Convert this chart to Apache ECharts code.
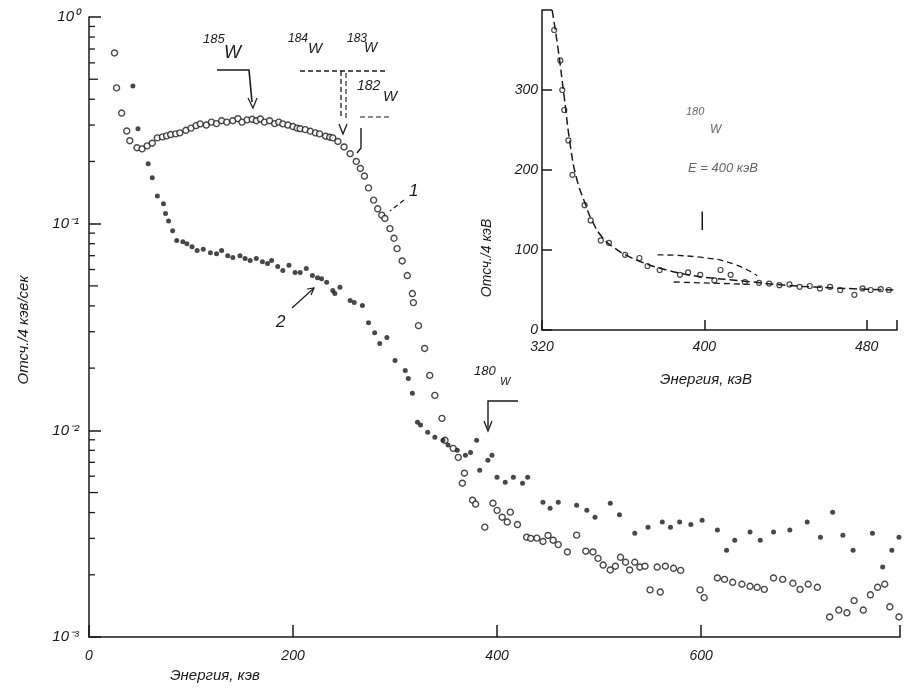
<!DOCTYPE html>
<html>
<head>
<meta charset="utf-8">
<script src="https://cdn.jsdelivr.net/npm/echarts@6/dist/echarts.min.js"></script>
<style>
  html, body { margin: 0; background: #fff; }
  #chart { width: 904px; height: 691px; }
</style>
</head>
<body>
<div id="chart"></div>
<script>
"use strict";

// curve 1, open circles: [energy keV, counts]
var openPts = [
    [25, 0.67], [27, 0.454], [32, 0.343], [37, 0.281], [40, 0.252], [47, 0.233], [52, 0.230],
    [57, 0.238], [62, 0.245], [67, 0.26], [72, 0.263], [76, 0.266], [80, 0.27], [85, 0.272],
    [89, 0.275], [95, 0.283], [100, 0.29], [105, 0.298], [109, 0.304], [115, 0.30], [120, 0.31],
    [125, 0.305], [130, 0.315], [135, 0.31], [141, 0.315], [146, 0.322], [150, 0.31], [155, 0.318],
    [160, 0.32], [164, 0.315], [168, 0.321], [172, 0.31], [177, 0.315], [182, 0.305], [186, 0.31],
    [190, 0.304], [195, 0.30], [200, 0.295], [204, 0.29], [207, 0.288], [212, 0.285], [217, 0.28],
    [222, 0.275], [226, 0.272], [232, 0.265], [236, 0.262], [239, 0.26], [244, 0.25], [250, 0.235],
    [256, 0.218], [262, 0.20], [266, 0.185], [270, 0.17], [274, 0.149], [279, 0.13], [283, 0.118],
    [287, 0.11], [290, 0.106], [295, 0.0946], [299, 0.085], [302, 0.0757], [307, 0.066], [312, 0.0561],
    [317, 0.0459], [318, 0.0415], [323, 0.0321], [329, 0.0249], [334, 0.01844], [339, 0.01476],
    [346, 0.01143], [349, 0.00895], [357, 0.00818], [362, 0.0074], [366, 0.00555], [368, 0.0062],
    [376, 0.00459], [379, 0.0044], [388, 0.0034], [396, 0.00444], [400, 0.0041], [405, 0.0038],
    [410, 0.0036], [413, 0.00402], [420, 0.0035], [429, 0.00304], [433, 0.0030], [439, 0.00301],
    [445, 0.0029], [450, 0.0031], [455, 0.00294], [460, 0.0028], [469, 0.00258], [478, 0.00311],
    [487, 0.0026], [494, 0.00258], [499, 0.0024], [504, 0.00223], [511, 0.00211], [516, 0.0022],
    [521, 0.00243], [526, 0.0023], [530, 0.00211], [535, 0.0023], [540, 0.00218], [545, 0.0022],
    [550, 0.00169], [557, 0.00218], [560, 0.00165], [565, 0.0022], [573, 0.00215], [580, 0.0021],
    [599, 0.00169], [603, 0.00155], [616, 0.00193], [623, 0.0019], [631, 0.00184], [640, 0.0018],
    [648, 0.00176], [655, 0.00174], [662, 0.0017], [671, 0.00193], [680, 0.0019], [690, 0.00182],
    [697, 0.0017], [705, 0.0018], [714, 0.00174], [726, 0.00125], [735, 0.00135], [743, 0.00131],
    [750, 0.0015], [759, 0.00135], [766, 0.0016], [773, 0.00174], [780, 0.0018], [785, 0.0014],
    [794, 0.00125]
];

// curve 2, filled dots
var fullPts = [
    [43, 0.464], [48, 0.288], [58, 0.195], [62, 0.167], [67, 0.136], [73, 0.125], [75, 0.112],
    [78, 0.103], [82, 0.0925], [86, 0.0828], [92, 0.0818], [96, 0.080], [101, 0.0774], [106, 0.0741],
    [112, 0.0753], [119, 0.0723], [125, 0.0716], [130, 0.0741], [136, 0.070], [141, 0.0685],
    [148, 0.070], [153, 0.0678], [158, 0.0663], [164, 0.0678], [170, 0.0655], [175, 0.0641],
    [179, 0.0663], [185, 0.0621], [190, 0.0593], [196, 0.063], [202, 0.058], [207, 0.058],
    [213, 0.0606], [219, 0.0561], [224, 0.0548], [228, 0.0542], [233, 0.052], [239, 0.0475],
    [241, 0.0459], [246, 0.0492], [256, 0.0425], [260, 0.0415], [268, 0.0402], [274, 0.0332],
    [280, 0.0297], [285, 0.0263], [292, 0.0281], [300, 0.0218], [310, 0.0195], [313, 0.0178],
    [317, 0.0151], [322, 0.01093], [325, 0.0106], [332, 0.0098], [339, 0.00925], [347, 0.00895],
    [352, 0.0085], [361, 0.0080], [369, 0.00757], [374, 0.00781], [380, 0.00895], [383, 0.00641],
    [391, 0.00716], [395, 0.00757], [400, 0.00593], [408, 0.0056], [416, 0.00593], [425, 0.00555],
    [430, 0.00593], [445, 0.00449], [452, 0.0042], [460, 0.00449], [478, 0.00434], [488, 0.0041],
    [496, 0.0038], [511, 0.00444], [520, 0.0039], [535, 0.00318], [548, 0.0034], [562, 0.0036],
    [570, 0.0034], [579, 0.0036], [590, 0.0035], [601, 0.00367], [616, 0.00329], [625, 0.00263],
    [633, 0.00294], [648, 0.00322], [658, 0.00294], [671, 0.00322], [687, 0.00329], [704, 0.0036],
    [717, 0.00304], [729, 0.00402], [739, 0.00311], [749, 0.00263], [768, 0.00318], [778, 0.00218],
    [787, 0.00263], [794, 0.00304]
];

// inset: counts / 4 keV around 400 keV
var insetPts = [
    [326, 375], [329, 337], [330, 300], [331, 275], [333, 237], [335, 194], [341, 156], [344, 137],
    [349, 112], [353, 109], [361, 94], [368, 90], [372, 80], [378, 75], [388, 69], [392, 72],
    [398, 69], [405, 62], [408, 75], [413, 69], [420, 60], [427, 59], [432, 58], [437, 56],
    [442, 57], [447, 54], [452, 55], [457, 52], [462, 54], [467, 50], [474, 44], [478, 52],
    [482, 50], [487, 51], [491, 50]
];
var insetFit = [
    [325, 400], [328, 350], [331, 290], [334, 230], [337, 190], [341, 160], [345, 135], [350, 115],
    [356, 102], [362, 93], [370, 84], [380, 76], [390, 70], [400, 66], [420, 61], [440, 56],
    [460, 53], [480, 51], [495, 50]
];
var insetPeakTop = [[377, 94], [398, 91], [415, 82], [426, 68]];
var insetPeakBase = [[385, 60], [424, 57]];
var insetMarker = [[399, 125], [399, 148]];

var mainXTicks = [0, 200, 400, 600];
var mainYTicks = [0.001, 0.01, 0.1, 1];
var insetXTicks = [320, 400, 480];
var insetYTicks = [0, 100, 200, 300];

var FONT = 'Liberation Sans';
var INK = '#1a1a1a';

var sup = { '0': '\u2070', '1': '\u00b9', '2': '\u00b2', '3': '\u00b3', '-': '\u207b' };
function powLabel(v) {
    var e = String(Math.round(Math.log10(v)));
    return '10' + e.split('').map(function (c) { return sup[c]; }).join('');
}

var chart = echarts.init(document.getElementById('chart'));

function axisBase(extra) {
    var base = {
        axisLine: { lineStyle: { color: INK, width: 1.5 } },
        axisTick: { inside: true, length: 12, lineStyle: { color: INK, width: 1.5 } },
        axisLabel: { color: INK, fontFamily: FONT, fontStyle: 'italic', fontSize: 14 },
        splitLine: { show: false }
    };
    return Object.assign(base, extra);
}

var option = {
    backgroundColor: '#fff',
    animation: false,
    grid: [
        { left: 89, right: 4, top: 17, bottom: 54 },
        { left: 542, right: 7, top: 10, bottom: 361 }
    ],
    xAxis: [
        axisBase({
            type: 'value', gridIndex: 0, min: 0, max: 795, interval: 200,
            axisLabel: {
                color: INK, fontFamily: FONT, fontStyle: 'italic', fontSize: 14, margin: 12,
                formatter: function (v) { return mainXTicks.indexOf(v) >= 0 ? String(v) : ''; }
            }
        }),
        axisBase({
            type: 'value', gridIndex: 1, min: 320, max: 495, interval: 80,
            axisTick: { inside: true, length: 10, lineStyle: { color: INK, width: 1.5 } },
            axisLabel: {
                color: INK, fontFamily: FONT, fontStyle: 'italic', fontSize: 14, margin: 10,
                formatter: function (v) { return insetXTicks.indexOf(v) >= 0 ? String(v) : ''; }
            }
        })
    ],
    yAxis: [
        axisBase({
            type: 'log', gridIndex: 0, min: 0.001, max: 1, logBase: 10,
            axisLabel: {
                color: INK, fontFamily: FONT, fontStyle: 'italic', fontSize: 15, margin: 10,
                formatter: function (v) { return powLabel(v); }
            }
        }),
        axisBase({
            type: 'value', gridIndex: 1, min: 0, max: 400, interval: 100,
            axisTick: { inside: true, length: 10, lineStyle: { color: INK, width: 1.5 } },
            axisLabel: {
                color: INK, fontFamily: FONT, fontStyle: 'italic', fontSize: 14, margin: 4,
                formatter: function (v) { return insetYTicks.indexOf(v) >= 0 ? String(v) : ''; }
            }
        })
    ],
    series: [
        {
            name: '1', type: 'scatter', xAxisIndex: 0, yAxisIndex: 0,
            data: openPts, symbol: 'circle', symbolSize: 6,
            itemStyle: { color: '#fff', borderColor: INK, borderWidth: 1.4 }
        },
        {
            name: '2', type: 'scatter', xAxisIndex: 0, yAxisIndex: 0,
            data: fullPts, symbol: 'circle', symbolSize: 5,
            itemStyle: { color: INK }
        },
        {
            type: 'line', xAxisIndex: 1, yAxisIndex: 1, data: insetFit, smooth: true,
            symbol: 'none', lineStyle: { color: INK, width: 1.5, type: [8, 4] }
        },
        {
            type: 'line', xAxisIndex: 1, yAxisIndex: 1, data: insetPeakTop, smooth: true,
            symbol: 'none', lineStyle: { color: INK, width: 1.3, type: [6, 4] }
        },
        {
            type: 'line', xAxisIndex: 1, yAxisIndex: 1, data: insetPeakBase,
            symbol: 'none', lineStyle: { color: INK, width: 1.3, type: [6, 4] }
        },
        {
            type: 'line', xAxisIndex: 1, yAxisIndex: 1, data: insetMarker,
            symbol: 'none', lineStyle: { color: INK, width: 1.5 }
        },
        {
            type: 'scatter', xAxisIndex: 1, yAxisIndex: 1, data: insetPts,
            symbol: 'circle', symbolSize: 5,
            itemStyle: { color: '#fff', borderColor: INK, borderWidth: 1.2 }
        }
    ]
};
chart.setOption(option);

// log minor ticks and annotations
var graphics = [];
function txt(x, y, s, size, extra) {
    graphics.push(Object.assign({
        type: 'text', x: x, y: y,
        style: { text: s, fill: INK, font: 'italic ' + size + 'px "' + FONT + '"' }
    }, extra || {}));
}
function poly(points, dashed, w) {
    graphics.push({
        type: 'polyline', shape: { points: points },
        style: { stroke: INK, lineWidth: w || 1.3, fill: null, lineDash: dashed ? [5, 3] : null }
    });
}

for (var d = -3; d < 0; d++) {
    for (var m = 2; m <= 9; m++) {
        var py = chart.convertToPixel({ yAxisIndex: 0 }, m * Math.pow(10, d));
        var len = m === 5 ? 9 : 6;
        poly([[89, py], [89 + len, py]], false, 1.3);
    }
}

// axis names
txt(215, 676, 'Энергия, кэв', 15, { style: { text: 'Энергия, кэв', fill: INK, font: 'italic 15px "' + FONT + '"', textAlign: 'center', textVerticalAlign: 'middle' } });
graphics.push({
    type: 'text', x: 24, y: 330, rotation: Math.PI / 2,
    style: { text: 'Отсч./4 кэв/сек', fill: INK, font: 'italic 15px "' + FONT + '"', textAlign: 'center', textVerticalAlign: 'middle' }
});
graphics.push({
    type: 'text', x: 706, y: 380,
    style: { text: 'Энергия, кэВ', fill: INK, font: 'italic 15px "' + FONT + '"', textAlign: 'center', textVerticalAlign: 'middle' }
});
graphics.push({
    type: 'text', x: 487, y: 258, rotation: Math.PI / 2,
    style: { text: 'Отсч./4 кэВ', fill: INK, font: 'italic 14px "' + FONT + '"', textAlign: 'center', textVerticalAlign: 'middle' }
});

// 185W
txt(203, 33, '185', 13);
txt(224, 44, 'W', 18);
poly([[217, 70], [249, 70], [252, 102]], false, 1.6);
poly([[248, 98], [253, 108], [257, 98]], false, 1.2);

// 184W, 183W, 182W
txt(288, 33, '184', 12);
txt(308, 41, 'W', 15);
txt(347, 33, '183', 12);
txt(364, 41, 'W', 14);
poly([[300, 71], [385, 71]], true, 1.3);
poly([[341, 71], [341, 118]], true, 1.3);
poly([[346, 73], [346, 118]], true, 1.1);
txt(357, 79, '182', 14);
txt(383, 89, 'W', 15);
poly([[360, 117], [392, 117]], true, 1.2);
poly([[339, 124], [343, 134], [347, 124]], false, 1.3);
poly([[361, 128], [361, 148], [357, 153]], false, 1.4);

// 180W
txt(474, 365, '180', 13);
txt(500, 376, 'W', 11);
poly([[518, 401], [488, 401], [488, 428]], false, 1.4);
poly([[484, 421], [488, 431], [492, 421]], false, 1.3);

// curve labels
txt(409, 183, '1', 17);
poly([[404, 200], [390, 211]], true, 1.2);
txt(276, 314, '2', 17);
poly([[292, 308], [314, 288]], false, 1.2);
poly([[307, 289], [314, 288], [311, 295]], false, 1.2);

// inset notes
graphics.push({
    type: 'text', x: 686, y: 106,
    style: { text: '180', fill: '#666', font: 'italic 11px "' + FONT + '"' }
});
graphics.push({
    type: 'text', x: 710, y: 124,
    style: { text: 'W', fill: '#666', font: 'italic 12px "' + FONT + '"' }
});
graphics.push({
    type: 'text', x: 688, y: 162,
    style: { text: 'E = 400 кэВ', fill: '#666', font: 'italic 13px "' + FONT + '"' }
});

chart.setOption({ graphic: graphics });
</script>
</body>
</html>
